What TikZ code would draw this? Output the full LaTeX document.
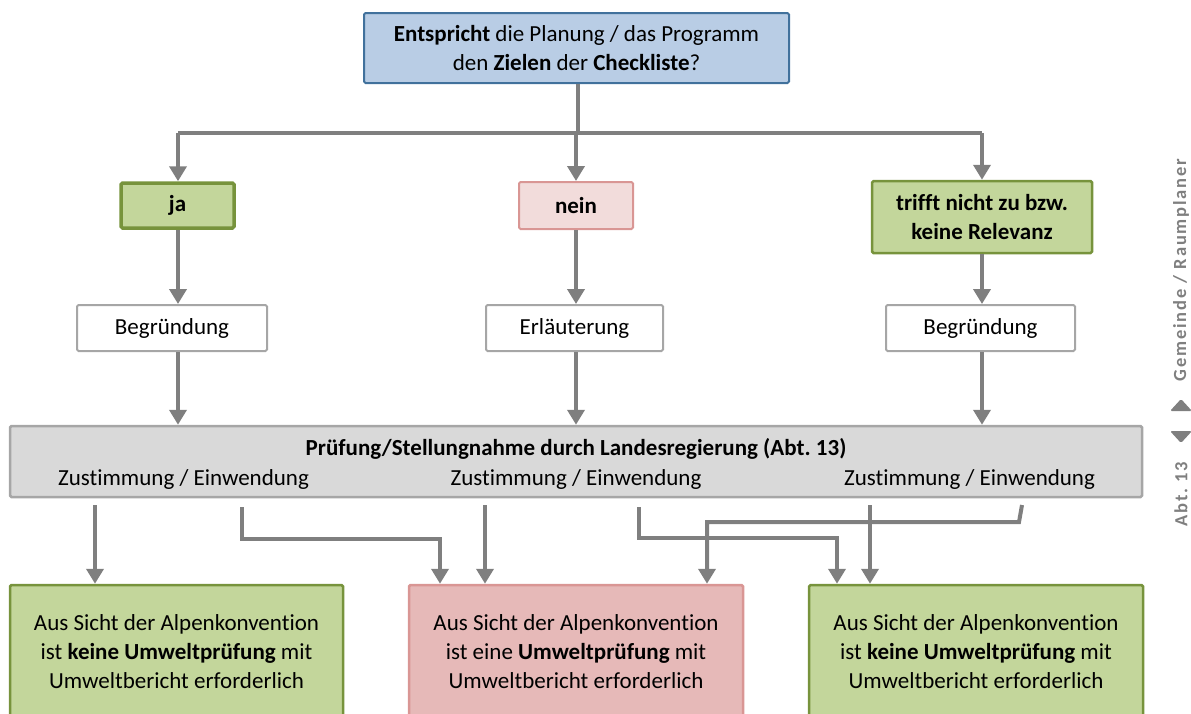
\documentclass[tikz,border=0pt]{standalone}
\usepackage{fontspec}
\setmainfont{Carlito}[Ligatures=NoCommon]
\usetikzlibrary{arrows.meta}
\definecolor{argray}{HTML}{7F7F7F}
\definecolor{topfill}{HTML}{B9CDE5}
\definecolor{topdraw}{HTML}{41719C}
\definecolor{grfill}{HTML}{C3D69B}
\definecolor{grdraw}{HTML}{77933C}
\definecolor{rlfill}{HTML}{F2DCDB}
\definecolor{rdraw}{HTML}{D99694}
\definecolor{rfill}{HTML}{E6B9B8}
\definecolor{gyfill}{HTML}{D9D9D9}
\definecolor{gydraw}{HTML}{A6A6A6}
\definecolor{sidegray}{HTML}{7F7F7F}
\frenchspacing
\begin{document}
\begin{tikzpicture}[x=1pt,y=-1pt,
  every node/.style={font=\fontsize{23}{29}\selectfont, inner sep=0pt, align=center},
  box/.style={rectangle, rounded corners=1.5pt, line width=2pt},
  topbox/.style={box, fill=topfill, draw=topdraw},
  greenbox/.style={box, fill=grfill, draw=grdraw, line width=2.5pt},
  redlbox/.style={box, fill=rlfill, draw=rdraw},
  redbox/.style={box, fill=rfill, draw=rdraw, line width=2.5pt},
  whitebox/.style={box, fill=white, draw=gydraw},
  graybox/.style={box, fill=gyfill, draw=gydraw, line width=2.5pt},
  conn/.style={draw=argray, line width=4pt},
  arr/.style={conn, -{Triangle[width=17pt,length=15pt]}},
  sidetext/.style={font=\fontsize{18.5}{20}\selectfont\bfseries\addfontfeature{LetterSpace=10}, text=sidegray, rotate=90}
]
\useasboundingbox (0,0) rectangle (1191,713);
\clip (0,0) rectangle (1191,713);

% nodes
\node[topbox, minimum width=425pt, minimum height=70pt] (top) at (576.5,48)
  {\textbf{Entspricht} die Planung / das Programm\\den \textbf{Zielen} der \textbf{Checkliste}?};
\node[greenbox, line width=3.5pt, minimum width=113pt, minimum height=45pt] (ja) at (177.5,205.5) {\textbf{ja}};
\node[redlbox, minimum width=114pt, minimum height=47pt] (nein) at (576,205.5) {\textbf{nein}};
\node[greenbox, minimum width=220pt, minimum height=72pt] (tr) at (982,217) {\textbf{trifft nicht zu bzw.}\\\textbf{keine Relevanz}};

\node[whitebox, minimum width=190pt, minimum height=46pt] (b1) at (172,328) {Begründung};
\node[whitebox, minimum width=177pt, minimum height=46pt] (b2) at (574.5,328) {Erläuterung};
\node[whitebox, minimum width=189pt, minimum height=46pt] (b3) at (980.5,328) {Begründung};

\node[graybox, minimum width=1132pt, minimum height=71pt] (pr) at (576,461.5) {};
\node (prt) at (576,449) {\textbf{Prüfung/Stellungnahme durch Landesregierung (Abt. 13)}};
\node (z1) at (183.5,479) {Zustimmung / Einwendung};
\node (z2) at (576,479) {Zustimmung / Einwendung};
\node (z3) at (969.5,479) {Zustimmung / Einwendung};

\node[greenbox, minimum width=333pt, minimum height=134pt] (g1) at (176.5,652)
  {Aus Sicht der Alpenkonvention\\ist \textbf{keine Umweltprüfung} mit\\Umweltbericht erforderlich};
\node[redbox, minimum width=334pt, minimum height=134pt] (r2) at (576,652)
  {Aus Sicht der Alpenkonvention\\ist eine \textbf{Umweltprüfung} mit\\Umweltbericht erforderlich};
\node[greenbox, minimum width=334pt, minimum height=134pt] (g3) at (976,652)
  {Aus Sicht der Alpenkonvention\\ist \textbf{keine Umweltprüfung} mit\\Umweltbericht erforderlich};

% top connectors
\coordinate (hub) at (578,133);
\coordinate (hl) at (178,133);
\coordinate (hr) at (982,133);
\draw[conn] (top.south -| hub) -- (hub);
\draw[conn] (hl) -- (hr);
\draw[arr] (hl) -- (hl |- ja.north);
\draw[arr] (hr) -- (hr |- tr.north);
\draw[arr] (hub -| nein) -- (nein.north);

% middle connectors
\draw[arr] (hl |- ja.south) -- (hl |- b1.north);
\draw[arr] (nein.south) -- (nein.south |- b2.north);
\draw[arr] (hr |- tr.south) -- (hr |- b3.north);
\draw[arr] (hl |- b1.south) -- (hl |- pr.north);
\draw[arr] (nein.south |- b2.south) -- (nein.south |- pr.north);
\draw[arr] (hr |- b3.south) -- (hr |- pr.north);

% bottom connectors
\coordinate (s1) at (95,505);
\coordinate (s2) at (242,507);
\coordinate (s3) at (485,505);
\coordinate (s4) at (639,507);
\coordinate (s5) at (870,505);
\coordinate (s6) at (1022,505);
\coordinate (e2) at (440,539);
\coordinate (e4) at (837,538);
\coordinate (e6a) at (1019,522);
\coordinate (e6) at (707,522);
\draw[arr] (s1) -- (s1 |- g1.north);
\draw[arr] (s2) -- (s2 |- e2) -- (e2) -- (e2 |- r2.north);
\draw[arr] (s3) -- (s3 |- r2.north);
\draw[arr] (s4) -- (s4 |- e4) -- (e4) -- (e4 |- g3.north);
\draw[arr] (s5) -- (s5 |- g3.north);
\draw[arr] (s6) -- (e6a) -- (e6) -- (e6 |- r2.north);

% side label
\node[sidetext] (gem) at (1181,270) {Gemeinde / Raumplaner};
\node[sidetext] (abt) at (1181,494) {Abt. 13};
\fill[sidegray, rounded corners=1.5pt] (1170,411) -- (1181,399) -- (1192,411) -- cycle;
\fill[sidegray, rounded corners=1.5pt] (1170,431) -- (1192,431) -- (1181,443) -- cycle;
\end{tikzpicture}
\end{document}
